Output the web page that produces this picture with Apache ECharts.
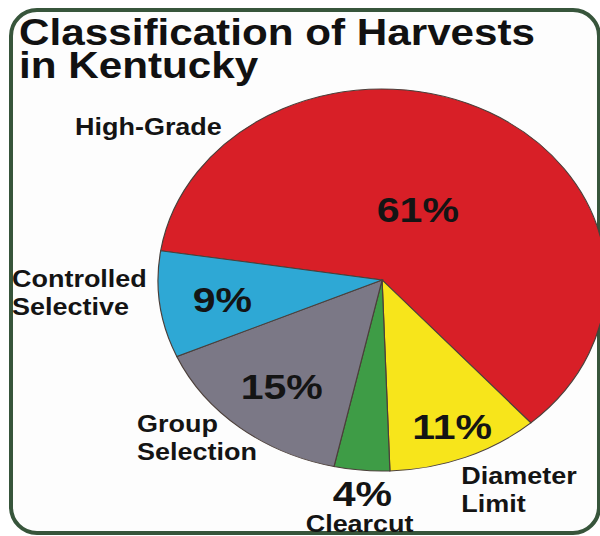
<!DOCTYPE html>
<html><head><meta charset="utf-8">
<script src="https://cdn.jsdelivr.net/npm/echarts@6/dist/echarts.min.js"></script>
<style>html,body{margin:0;padding:0;background:#fff}#c{width:600px;height:536px}</style>
</head><body><div id="c"></div>
<script>
// ---- data ----
const titleText = 'Classification of Harvests\nin Kentucky';
const categories = ['High-Grade', 'Diameter\nLimit', 'Clearcut', 'Group\nSelection', 'Controlled\nSelective'];
const values = [61, 11, 4, 15, 9];

// ---- styles / layout ----
const sliceColors = ['#d81f27', '#f7e51b', '#3e9c46', '#7b7886', '#2ea8d5'];
// label anchors in polar data space: [radius fraction, angle-axis value, align]
const pctAnchor = [[0.40, 29.1], [0.83, 66.4], [1.12, 73.8], [0.716, 83.3], [0.72, 95.25]];
const nameAnchor = [[1.587, 5.97, 'left'], [1.156, 67.6, 'left'], [1.28, 73.8, 'center'], [1.371, 87.25, 'left'], [1.653, 96.9, 'left']];
const STRETCH = 224 / 191;
const FONT = '"Liberation Sans", Arial, Helvetica, sans-serif';

const chart = echarts.init(document.getElementById('c'), null, {renderer: 'svg'});

let acc = 0;
const seriesData = values.map(function (v) { const d = [acc, acc + v, 1]; acc += v; return d; });

function renderItem(params, api) {
  const i = params.dataIndex;
  const cs = params.coordSys;
  const s = api.value(0), e = api.value(1);
  const p0 = api.coord([1, s]);
  const p1 = api.coord([1, e]);
  const a0 = -p0[3], a1 = -p1[3];
  const pl = api.coord([pctAnchor[i][0], pctAnchor[i][1]]);
  const nl = api.coord([nameAnchor[i][0], nameAnchor[i][1]]);
  return {
    type: 'group',
    originX: cs.cx, originY: cs.cy, scaleX: STRETCH,
    children: [
      {
        type: 'sector',
        shape: {cx: cs.cx, cy: cs.cy, r0: 0, r: cs.r, startAngle: a0, endAngle: a1, clockwise: true},
        style: {fill: sliceColors[i], stroke: '#4b3f3a', lineWidth: 1}
      },
      {
        type: 'text', x: pl[0], y: pl[1], z2: 20,
        style: {text: values[i] + '%', fontSize: 35, fontWeight: 'bold', fontFamily: FONT,
                fill: '#141414', align: 'center', verticalAlign: 'middle'}
      },
      {
        type: 'text', x: nl[0], y: nl[1], z2: 20,
        style: {text: categories[i], fontSize: 23, fontWeight: 'bold', fontFamily: FONT, lineHeight: 28,
                fill: '#141414', align: nameAnchor[i][2], verticalAlign: 'middle'}
      }
    ]
  };
}

chart.setOption({
  animation: false,
  backgroundColor: '#ffffff',
  polar: {center: [382, 280], radius: 191},
  angleAxis: {type: 'value', min: 0, max: 100, startAngle: 171.2, clockwise: true, show: false},
  radiusAxis: {type: 'value', min: 0, max: 1, show: false},
  graphic: [
    {type: 'rect', z: 0, shape: {x: 11, y: 10, width: 588, height: 523, r: 26},
     style: {fill: '#fdfdfd', stroke: '#37553b', lineWidth: 4}},
    {type: 'text', z: 10, x: 23, y: 16, originX: 23, scaleX: STRETCH,
     style: {text: titleText, fontSize: 36, fontWeight: 'bold', fontFamily: FONT, lineHeight: 33,
             fill: '#111111', align: 'left', verticalAlign: 'top'}}
  ],
  series: [{
    type: 'custom',
    coordinateSystem: 'polar',
    z: 5,
    encode: {angle: [0, 1], radius: 2},
    data: seriesData,
    renderItem: renderItem
  }]
});
</script></body></html>
